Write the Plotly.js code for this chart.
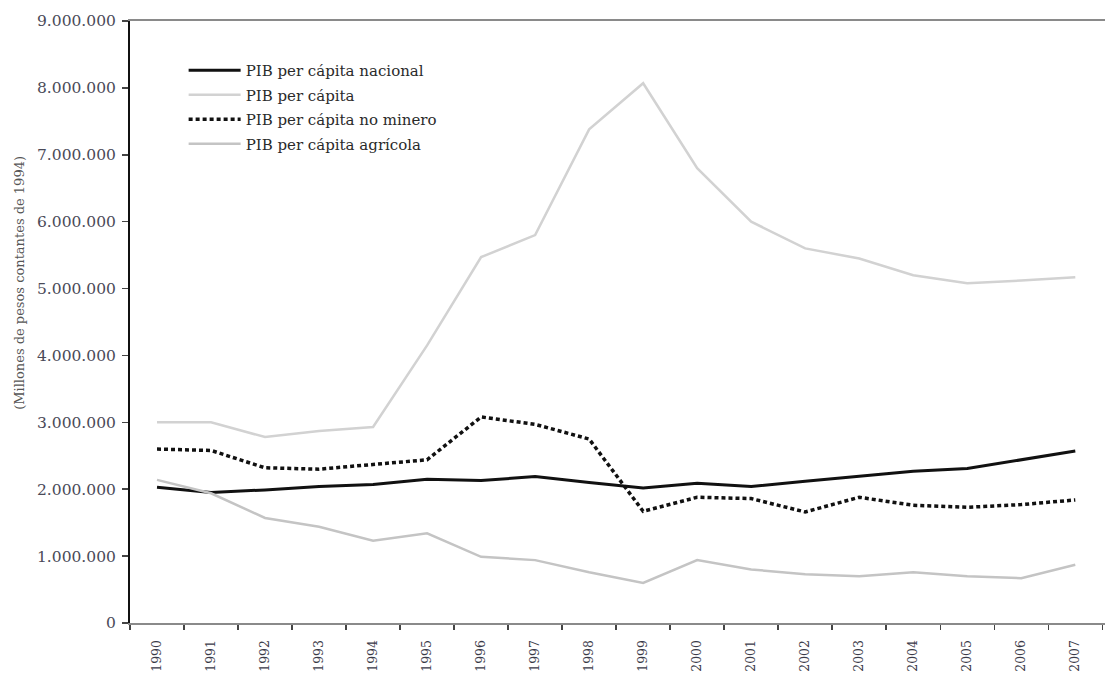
<!DOCTYPE html>
<html>
<head>
<meta charset="utf-8">
<script src="https://cdn.plot.ly/plotly-3.0.1.min.js"></script>
<style>html,body{margin:0;padding:0;background:#fff;}#chart{width:1105px;height:673px;}</style>
</head>
<body>
<div id="chart"></div>
<script>
const years = ["1990","1991","1992","1993","1994","1995","1996","1997","1998","1999","2000","2001","2002","2003","2004","2005","2006","2007"];
const pibNacional = [2030000,1950000,1990000,2040000,2070000,2150000,2130000,2190000,2100000,2020000,2090000,2040000,2120000,2200000,2270000,2310000,2440000,2570000];
const pibPerCapita = [3000000,3000000,2780000,2870000,2930000,4150000,5470000,5800000,7380000,8070000,6800000,6000000,5600000,5450000,5200000,5080000,5120000,5170000];
const pibNoMinero = [2600000,2580000,2320000,2300000,2370000,2440000,3080000,2970000,2750000,1670000,1880000,1860000,1660000,1880000,1760000,1730000,1770000,1840000];
const pibAgricola = [2140000,1940000,1570000,1440000,1230000,1340000,990000,940000,760000,600000,940000,800000,730000,700000,760000,700000,670000,870000];
const seriesNames = ["PIB per cápita nacional","PIB per cápita","PIB per cápita no minero","PIB per cápita agrícola"];
const yTicks = [0,1000000,2000000,3000000,4000000,5000000,6000000,7000000,8000000,9000000];
const yTitle = "(Millones de pesos contantes de 1994)";

const serif = "DejaVu Serif, Liberation Serif, serif";
const traces = [
  {x: years, y: pibNacional, name: seriesNames[0], mode: "lines", line: {color: "#111111", width: 3}, legendgroup: "a"},
  {x: years, y: pibPerCapita, name: seriesNames[1], mode: "lines", line: {color: "#d2d2d2", width: 2.5}, legendgroup: "b"},
  {x: years, y: pibNoMinero, name: seriesNames[2], mode: "lines", line: {color: "#111111", width: 3.5, dash: "4px,3px"}, legendgroup: "c"},
  {x: years, y: pibAgricola, name: seriesNames[3], mode: "lines", line: {color: "#c4c4c4", width: 2.5}, legendgroup: "d"}
];

const layout = {
  width: 1105, height: 673,
  margin: {l: 130, r: 0, t: 21, b: 50},
  paper_bgcolor: "#fff", plot_bgcolor: "#fff",
  separators: ",.",
  font: {family: serif, color: "#333", size: 13},
  showlegend: true,
  legend: {x: 0.055, y: 0.945, xanchor: "left", yanchor: "top", itemwidth: 52,
           font: {family: serif, size: 15, color: "#2a2a2a"}, bgcolor: "rgba(0,0,0,0)", tracegroupgap: 2},
  xaxis: {
    type: "category", range: [-0.5, 17.55],
    showline: true, linecolor: "#8a8a8a", linewidth: 2, mirror: true,
    ticks: "outside", tickson: "boundaries", ticklen: 5, tickcolor: "#444", tickwidth: 1.5,
    tickangle: -90, ticklabelstandoff: 10, tickfont: {family: serif, size: 12.5, color: "#3a3a48"},
    showgrid: false, zeroline: false
  },
  yaxis: {
    range: [0, 9000000], tickvals: yTicks, tickformat: ",d",
    showline: true, linecolor: "#111", linewidth: 2,
    ticks: "outside", ticklen: 6, tickcolor: "#444", tickwidth: 1.5,
    ticklabelstandoff: 3,
    tickfont: {family: serif, size: 15.5, color: "#4a4a58"},
    showgrid: false, zeroline: false
  },
  annotations: [{
    text: yTitle, xref: "paper", yref: "paper", x: (20 - 130) / 975, y: 0.565,
    xanchor: "center", yanchor: "middle", textangle: -90, showarrow: false,
    font: {family: serif, size: 13, color: "#555"}
  }]
};

Plotly.newPlot("chart", traces, layout, {displayModeBar: false, staticPlot: true});
</script>
</body>
</html>
